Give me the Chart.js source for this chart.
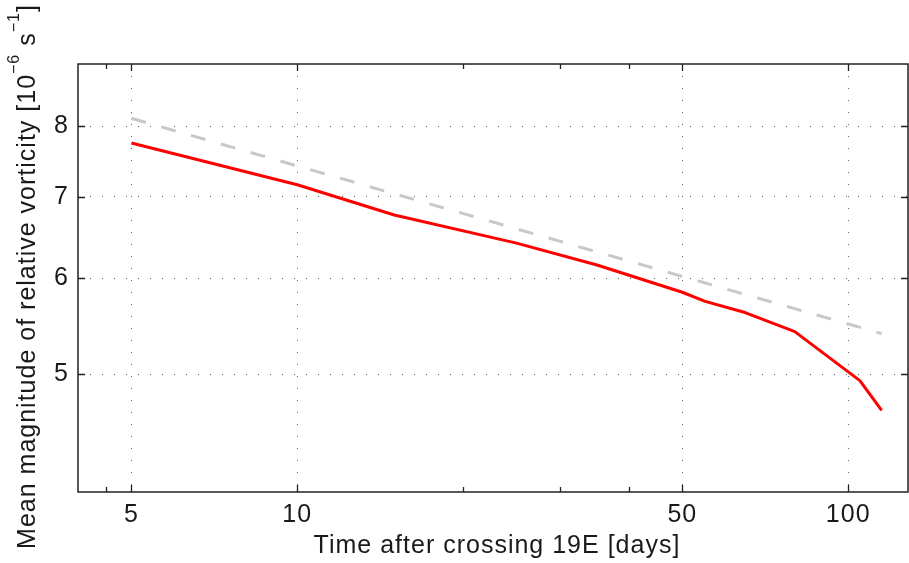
<!DOCTYPE html>
<html>
<head>
<meta charset="utf-8">
<script src="https://cdn.jsdelivr.net/npm/chart.js@4.4.0/dist/chart.umd.min.js"></script>
<style>
    html, body { margin: 0; padding: 0; background: #fff; }
    #wrap { width: 909px; height: 563px; }
</style>
</head>
<body>
<div id="wrap"><canvas id="vortChart" width="909" height="563"></canvas></div>
<script>
// valores (eixos log-log)
const days = [5, 10, 15, 25, 35, 50, 55, 65, 80, 105, 115];
const vorticity = [7.75, 7.16, 6.76, 6.41, 6.15, 5.84, 5.74, 5.62, 5.42, 4.94, 4.67];
const fitDays = [5, 115];
const fitVorticity = [8.12, 5.40];
const xMajorTicks = [5, 10, 50, 100];
const xMinorTicks = [4.5, 20, 30, 40];
const yTicks = [5, 6, 7, 8];

const fontFamily = "'Liberation Sans', Arial, Helvetica, sans-serif";
const textColor = '#1a1a1a';

// moldura com ticks para dentro + titulo do eixo y com expoentes
const framePlugin = {
    id: 'frame',
    beforeDraw(chart) {
        chart.ctx.letterSpacing = '1px';
    },
    afterDraw(chart) {
        const ctx = chart.ctx;
        const area = chart.chartArea;
        const xs = chart.scales.x;
        const ys = chart.scales.y;

        ctx.save();
        ctx.strokeStyle = '#222';
        ctx.lineWidth = 1.5;
        ctx.strokeRect(area.left, area.top, area.right - area.left, area.bottom - area.top);

        ctx.lineWidth = 1.3;
        const xTick = (v, len) => {
            const px = Math.round(xs.getPixelForValue(v)) + 0.5;
            ctx.beginPath();
            ctx.moveTo(px, area.bottom);
            ctx.lineTo(px, area.bottom - len);
            ctx.moveTo(px, area.top);
            ctx.lineTo(px, area.top + len);
            ctx.stroke();
        };
        xMajorTicks.forEach(v => xTick(v, 7));
        xMinorTicks.forEach(v => xTick(v, 5));
        yTicks.forEach(v => {
            const py = Math.round(ys.getPixelForValue(v)) + 0.5;
            ctx.beginPath();
            ctx.moveTo(area.left, py);
            ctx.lineTo(area.left + 7, py);
            ctx.moveTo(area.right, py);
            ctx.lineTo(area.right - 7, py);
            ctx.stroke();
        });

        // titulo y
        const mainFont = '25px ' + fontFamily;
        const supFont = '16px ' + fontFamily;
        const parts = [
            { t: 'Mean magnitude of relative vorticity [10', f: mainFont, dy: 0 },
            { t: '\u22126', f: supFont, dy: -16 },
            { t: ' s', f: mainFont, dy: 0 },
            { t: '\u22121', f: supFont, dy: -16 },
            { t: ']', f: mainFont, dy: 0 }
        ];
        ctx.fillStyle = textColor;
        ctx.textBaseline = 'alphabetic';
        ctx.textAlign = 'left';
        let total = 0;
        parts.forEach(p => {
            ctx.font = p.f;
            p.w = ctx.measureText(p.t).width;
            total += p.w;
        });
        ctx.translate(35, 276.5);
        ctx.rotate(-Math.PI / 2);
        let x = -total / 2;
        parts.forEach(p => {
            ctx.font = p.f;
            ctx.fillText(p.t, x, p.dy);
            x += p.w;
        });
        ctx.restore();
    }
};

const ctx = document.getElementById('vortChart').getContext('2d');

new Chart(ctx, {
    type: 'line',
    data: {
        datasets: [{
            data: fitDays.map((d, i) => ({ x: d, y: fitVorticity[i] })),
            borderColor: '#c8c8c8',
            borderWidth: 3,
            borderDash: [15, 16],
            pointRadius: 0,
            order: 2
        }, {
            data: days.map((d, i) => ({ x: d, y: vorticity[i] })),
            borderColor: '#ff0000',
            borderWidth: 3,
            pointRadius: 0,
            borderJoinStyle: 'round',
            order: 1
        }]
    },
    options: {
        responsive: false,
        animation: false,
        layout: { padding: { top: 64, right: 1, left: 0, bottom: 0 } },
        plugins: {
            legend: { display: false },
            tooltip: { enabled: false }
        },
        scales: {
            x: {
                type: 'logarithmic',
                min: 4,
                max: 128.4,
                afterBuildTicks: scale => { scale.ticks = xMajorTicks.map(v => ({ value: v })); },
                afterFit: scale => { scale.height = 71; },
                grid: { color: '#666', lineWidth: 1, drawTicks: false },
                border: { display: false, dash: [1, 11] },
                ticks: {
                    autoSkip: false,
                    maxRotation: 0,
                    padding: 8,
                    color: textColor,
                    font: { family: fontFamily, size: 25 },
                    callback: v => String(v)
                },
                title: {
                    display: true,
                    text: ' Time after crossing 19E [days]',
                    color: textColor,
                    font: { family: fontFamily, size: 25 },
                    padding: { top: 0, bottom: 2 }
                }
            },
            y: {
                type: 'logarithmic',
                min: 4,
                max: 9,
                afterBuildTicks: scale => { scale.ticks = yTicks.map(v => ({ value: v })); },
                afterFit: scale => { scale.width = 78; },
                grid: { color: '#666', lineWidth: 1, drawTicks: false },
                border: { display: false, dash: [1, 11] },
                ticks: {
                    padding: 9,
                    color: textColor,
                    font: { family: fontFamily, size: 25 },
                    callback: v => String(v)
                }
            }
        }
    },
    plugins: [framePlugin]
});
</script>
</body>
</html>
